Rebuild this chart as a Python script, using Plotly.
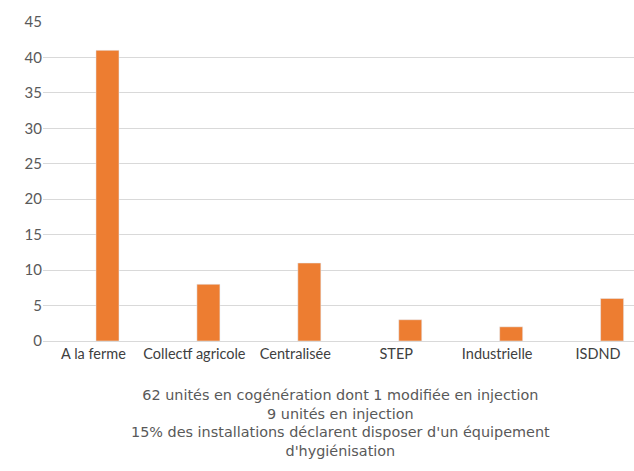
import plotly.graph_objects as go

categories = ["A la ferme", "Collectf agricole", "Centralisée", "STEP", "Industrielle", "ISDND"]
values = [41, 8, 11, 3, 2, 6]
y_ticks = [0, 5, 10, 15, 20, 25, 30, 35, 40, 45]
note_lines = [
    "62 unités en cogénération dont 1 modifiée en injection",
    "9 unités en injection",
    "15% des installations déclarent disposer d'un équipement",
    "d'hygiénisation",
]

PLOT_TOP, PLOT_BOTTOM = 22, 341
plot_h = PLOT_BOTTOM - PLOT_TOP
NOTE_CENTER_PX = 423

fig = go.Figure()
fig.add_trace(go.Bar(x=categories, y=values, marker_color="#ED7D31",
                     width=0.228, offset=0.025))

fig.update_layout(
    width=634, height=471,
    margin=dict(l=43, r=0, t=PLOT_TOP, b=471 - PLOT_BOTTOM),
    paper_bgcolor="white", plot_bgcolor="white",
    showlegend=False,
    font=dict(family="Lato, sans-serif", color="#595959", size=14),
    xaxis=dict(range=[-0.5, 5.356], showline=True, linecolor="#d9d9d9", linewidth=1,
               ticks="", showgrid=False, tickfont=dict(size=14.5, color="#404040")),
    yaxis=dict(range=[0, 45], tickvals=y_ticks, showgrid=True, gridcolor="#d9d9d9",
               gridwidth=1, zeroline=False, ticks="", tickfont=dict(size=15, color="#595959")),
    annotations=[dict(
        text="<br>".join(note_lines), xref="paper", yref="paper",
        x=0.504, y=(PLOT_BOTTOM - NOTE_CENTER_PX) / plot_h,
        xanchor="center", yanchor="middle", showarrow=False, align="center",
        font=dict(family="DejaVu Sans, sans-serif", size=14.4, color="#595959"),
    )],
)

fig.write_html("out.html", config={"displayModeBar": False},
               post_script="document.body.style.margin='0';")
